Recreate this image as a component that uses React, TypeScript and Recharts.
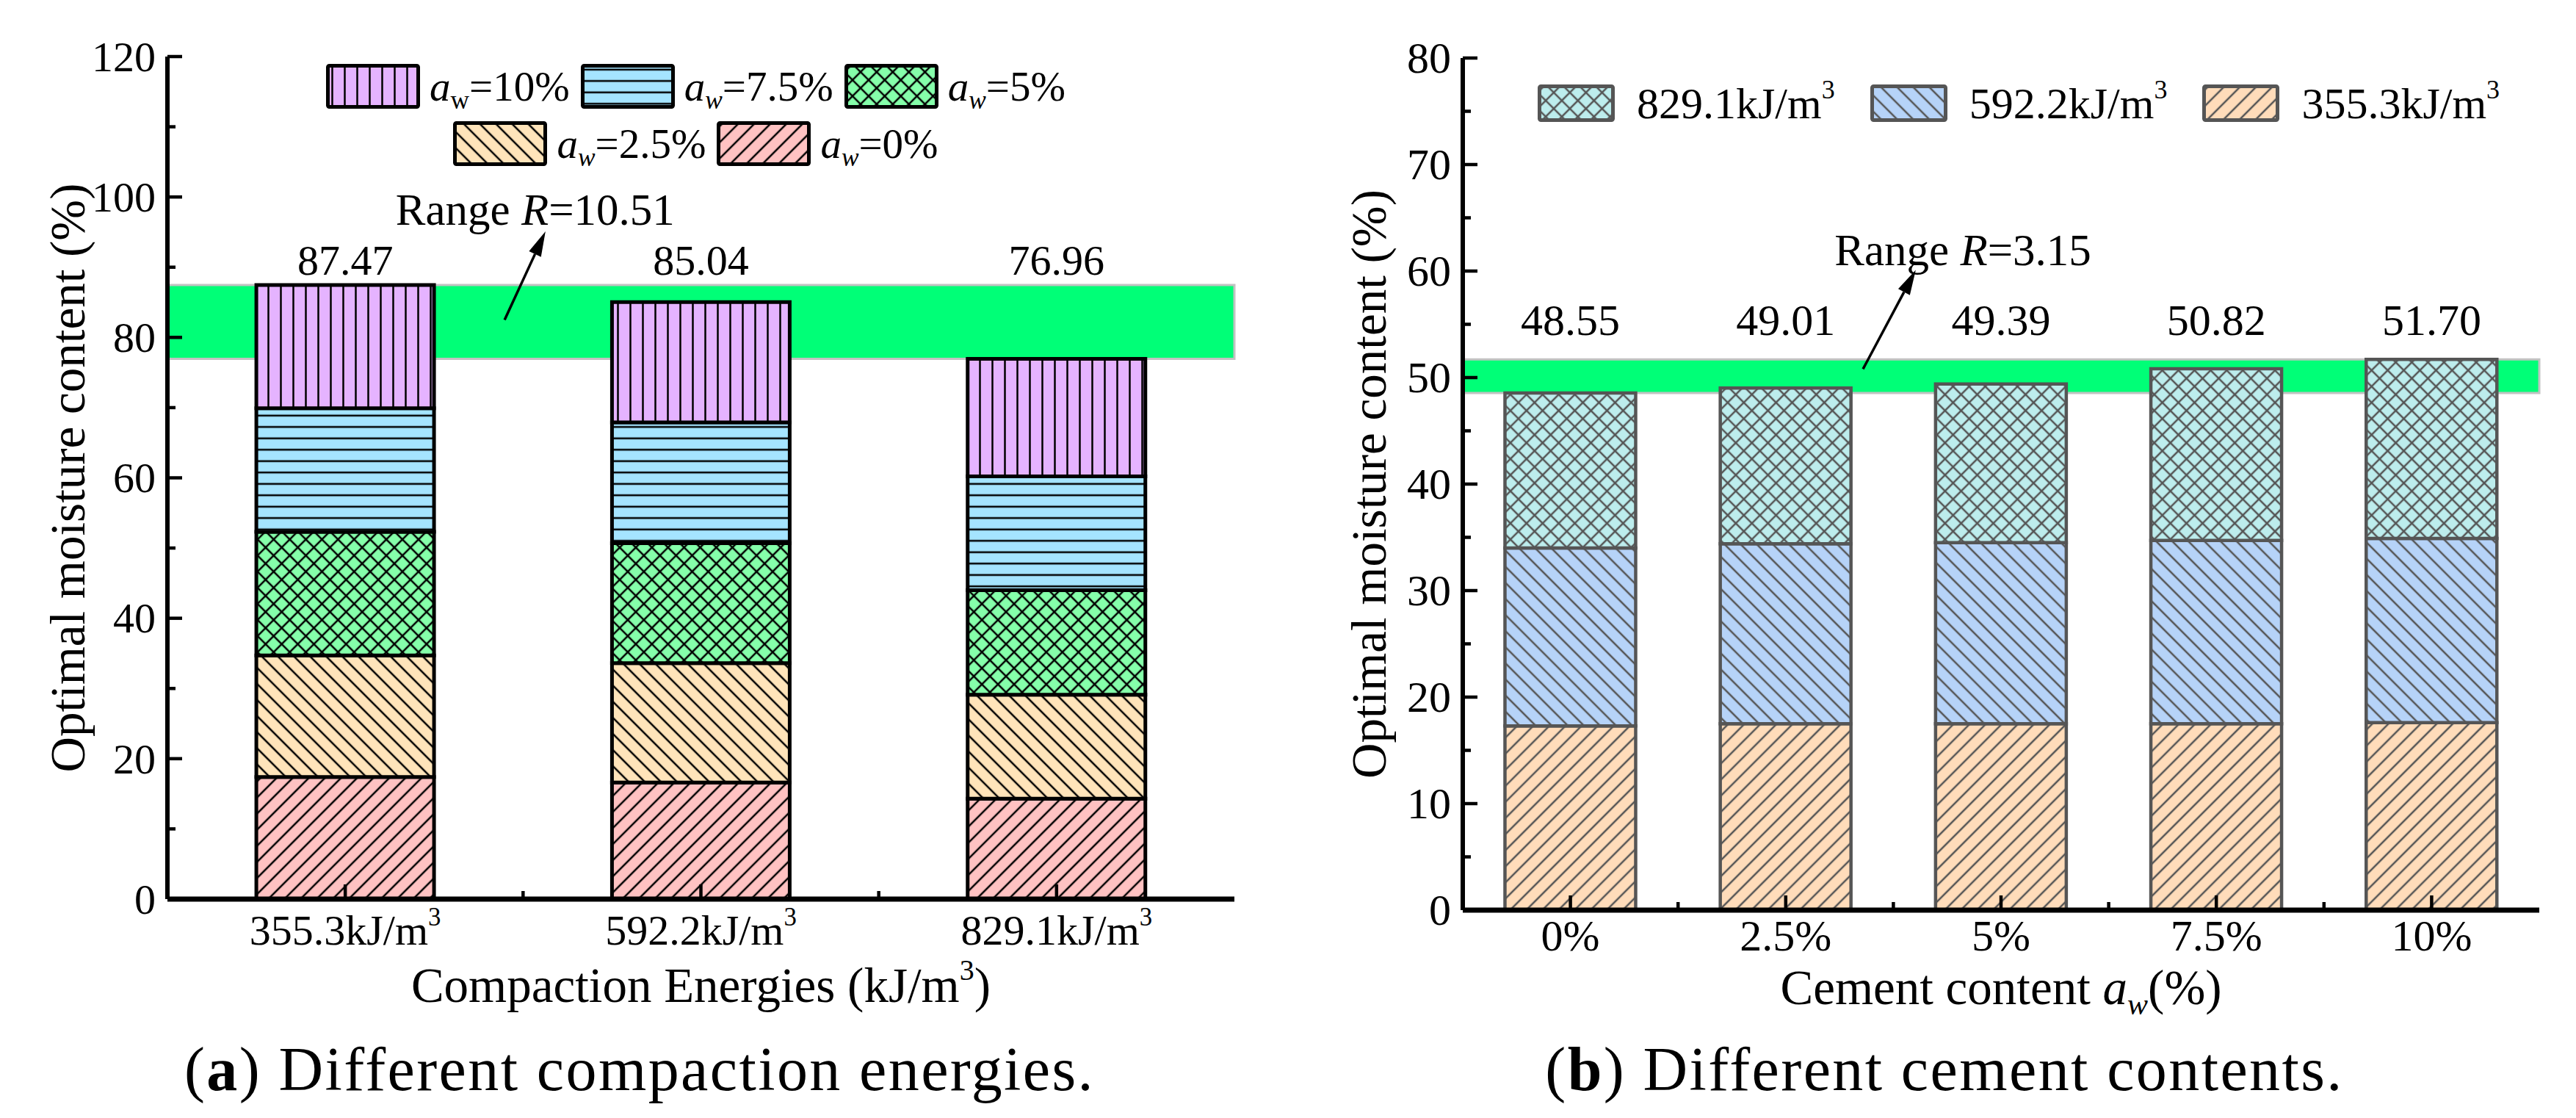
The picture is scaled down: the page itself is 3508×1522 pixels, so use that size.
import React from "react";
import { Bar, BarChart, Legend, ReferenceArea, ReferenceDot, ReferenceLine, XAxis, YAxis } from "recharts";

const FONT = "'Liberation Serif', 'Times New Roman', Times, serif";

// (a) optimal moisture content vs compaction energy, stacked by cement content a_w
const energyCats = ["355.3kJ/m³", "592.2kJ/m³", "829.1kJ/m³"];
const aw0 = [17.4, 16.6, 14.3];
const aw25 = [17.3, 17.0, 14.8];
const aw5 = [17.6, 17.1, 14.9];
const aw75 = [17.6, 17.2, 16.2];
const aw10 = [17.57, 17.14, 16.76];
const energyTotals = [87.47, 85.04, 76.96];
const energyYTicks = [0, 10, 20, 30, 40, 50, 60, 70, 80, 90, 100, 110, 120];

// (b) optimal moisture content vs cement content, stacked by compaction energy
const cementCats = ["0%", "2.5%", "5%", "7.5%", "10%"];
const e355 = [17.3, 17.5, 17.5, 17.5, 17.6];
const e592 = [16.7, 16.9, 17.0, 17.2, 17.3];
const e829 = [14.55, 14.61, 14.89, 16.12, 16.8];
const cementTotals = [48.55, 49.01, 49.39, 50.82, 51.7];
const cementYTicks = [0, 5, 10, 15, 20, 25, 30, 35, 40, 45, 50, 55, 60, 65, 70, 75, 80];

const energyRows = energyCats.map((cat, i) => ({
  cat, aw0: aw0[i], aw25: aw25[i], aw5: aw5[i], aw75: aw75[i], aw10: aw10[i],
}));
const cementRows = cementCats.map((cat, i) => ({ cat, e355: e355[i], e592: e592[i], e829: e829[i] }));

const awLevels = ["0%", "2.5%", "5%", "7.5%", "10%"];
const leftSeries = [
  { key: "aw0", pat: "pA0", kind: "fwd", bg: "#FFC2C2" },
  { key: "aw25", pat: "pA1", kind: "back", bg: "#FFE4BA" },
  { key: "aw5", pat: "pA2", kind: "cross", bg: "#85FFAA" },
  { key: "aw75", pat: "pA3", kind: "h", bg: "#A5E4FF" },
  { key: "aw10", pat: "pA4", kind: "v", bg: "#E5B3FF" },
];
const rightSeries = [
  { key: "e355", pat: "pB0", kind: "fwd", bg: "#FFDCBA" },
  { key: "e592", pat: "pB1", kind: "back", bg: "#B6D3F8" },
  { key: "e829", pat: "pB2", kind: "cross", bg: "#BDEDED" },
];

const BAND = "#00FF77";

function Hatch({ id, kind, bg, ink, s = 15.5, w = 2.5 }: any) {
  const rot = kind === "fwd" || kind === "cross" ? 45 : kind === "back" ? -45 : 0;
  const vert = kind !== "h";
  const horiz = kind === "h" || kind === "cross";
  return (
    <pattern
      id={id}
      patternUnits="userSpaceOnUse"
      width={s}
      height={s}
      patternTransform={rot ? `rotate(${rot})` : undefined}
    >
      <rect width={s} height={s} fill={bg} />
      {vert && <line x1={s / 2} y1={-1} x2={s / 2} y2={s + 1} stroke={ink} strokeWidth={w} />}
      {horiz && <line x1={-1} y1={s / 2} x2={s + 1} y2={s / 2} stroke={ink} strokeWidth={w} />}
    </pattern>
  );
}

// "kJ/m³" -> raised small 3 like the original figure
function SvgUnit({ text, fontSize }: any) {
  if (!text.endsWith("³")) return <>{text}</>;
  return (
    <>
      {text.slice(0, -1)}
      <tspan fontSize={fontSize * 0.6} dy={-0.45 * fontSize}>3</tspan>
    </>
  );
}

function HtmlUnit({ text }: any) {
  if (!text.endsWith("³")) return <>{text}</>;
  return (
    <>
      {text.slice(0, -1)}
      <span style={{ fontSize: "0.6em", position: "relative", top: "-0.75em" }}>3</span>
    </>
  );
}

function YTick({ x, y, payload, majorStep, fontSize }: any) {
  const v = payload.value;
  const major = v % majorStep === 0;
  return (
    <g>
      <line x1={x} x2={x + (major ? 20 : 11)} y1={y} y2={y} stroke="#000" strokeWidth={4.5} />
      {major && (
        <text x={x - 16} y={y} dy="0.34em" textAnchor="end" fontFamily={FONT} fontSize={fontSize} fill="#000">
          {v}
        </text>
      )}
    </g>
  );
}

function XTick({ x, y, payload, index, count, half, baseline, fontSize }: any) {
  return (
    <g>
      <line x1={x} x2={x} y1={y} y2={y - 20} stroke="#000" strokeWidth={4.5} />
      {index < count - 1 && <line x1={x + half} x2={x + half} y1={y} y2={y - 11} stroke="#000" strokeWidth={4.5} />}
      <text x={x} y={y + baseline} textAnchor="middle" fontFamily={FONT} fontSize={fontSize} fill="#000">
        <SvgUnit text={String(payload.value)} fontSize={fontSize} />
      </text>
    </g>
  );
}

// arrow drawn from a vertical reference segment anchored on the first category,
// shifted sideways by fractions of a category band
const arrowShape = (band: number, f1: number, f2: number) => (p: any) => {
  const x1 = p.x1 + (f1 - 0.5) * band;
  const x2 = p.x2 + (f2 - 0.5) * band;
  const y1 = p.y1;
  const y2 = p.y2;
  const a = Math.atan2(y2 - y1, x2 - x1);
  const L = 34;
  const W = 9;
  const bx = x2 - L * Math.cos(a);
  const by = y2 - L * Math.sin(a);
  const px = -Math.sin(a) * W;
  const py = Math.cos(a) * W;
  return (
    <g>
      <line x1={x1} y1={y1} x2={bx} y2={by} stroke="#000" strokeWidth={3.5} />
      <polygon points={`${x2},${y2} ${bx + px},${by + py} ${bx - px},${by - py}`} fill="#000" />
    </g>
  );
};

const rangeText = (band: number, f: number, range: number) => (p: any) => (
  <text x={p.cx + (f - 0.5) * band} y={p.cy} textAnchor="middle" fontFamily={FONT} fontSize={61} fill="#000">
    Range <tspan fontStyle="italic">R</tspan>={range.toFixed(2)}
  </text>
);

function Swatch({ pat, w, h, stroke, sw }: any) {
  return (
    <svg width={w} height={h} style={{ display: "block", flex: "none" }}>
      <rect x={sw / 2} y={sw / 2} width={w - sw} height={h - sw} fill={`url(#${pat})`} stroke={stroke} strokeWidth={sw} rx={2} />
    </svg>
  );
}

function AwText({ level, italicW }: any) {
  return (
    <span style={{ lineHeight: 1, whiteSpace: "nowrap" }}>
      <i>a</i>
      <span style={{ fontSize: "0.62em", fontStyle: italicW ? "italic" : "normal", position: "relative", top: "0.32em" }}>w</span>
      ={level}
    </span>
  );
}

function LeftLegend() {
  const rows = [[4, 3, 2], [1, 0]];
  return (
    <div style={{ fontFamily: FONT, fontSize: 57, color: "#000" }}>
      {rows.map((row, ri) => (
        <div
          key={ri}
          style={{ display: "flex", justifyContent: "center", alignItems: "center", gap: 15, height: 61, marginBottom: ri === 0 ? 17 : 0 }}
        >
          {row.map((i) => (
            <div key={i} style={{ display: "flex", alignItems: "center", gap: 13 }}>
              <Swatch pat={leftSeries[i].pat} w={128} h={61} stroke="#000" sw={5} />
              <AwText level={awLevels[i]} italicW={i !== 4} />
            </div>
          ))}
        </div>
      ))}
    </div>
  );
}

function RightLegend() {
  const order = [2, 1, 0];
  return (
    <div style={{ fontFamily: FONT, fontSize: 60, color: "#000", display: "flex", alignItems: "center", gap: 48, height: 51 }}>
      {order.map((i) => (
        <div key={i} style={{ display: "flex", alignItems: "center", gap: 30 }}>
          <Swatch pat={rightSeries[i].pat} w={105} h={51} stroke="#555" sw={5} />
          <span style={{ lineHeight: 1, whiteSpace: "nowrap" }}>
            <HtmlUnit text={energyCats[i]} />
          </span>
        </div>
      ))}
    </div>
  );
}

const yTitle = (dx: number) => (props: any) => {
  const vb = props.viewBox;
  const cx = vb.x + dx;
  const cy = vb.y + vb.height / 2;
  return (
    <text
      x={cx}
      y={cy}
      transform={`rotate(-90 ${cx} ${cy})`}
      textAnchor="middle"
      dominantBaseline="central"
      fontFamily={FONT}
      fontSize={67}
      fill="#000"
    >
      Optimal moisture content (%)
    </text>
  );
};

const frameAxes = (max: number) => [
  <XAxis
    key="top"
    xAxisId="top"
    orientation="top"
    dataKey="cat"
    height={0}
    tick={false}
    tickLine={false}
    axisLine={{ stroke: "#000", strokeWidth: 5 }}
  />,
  <YAxis
    key="right"
    yAxisId="right"
    orientation="right"
    width={0}
    domain={[0, max]}
    tick={false}
    tickLine={false}
    axisLine={{ stroke: "#000", strokeWidth: 5 }}
  />,
];

function EnergyChart() {
  const W = 1750;
  const H = 1400;
  const margin = { top: 77, right: 69, bottom: 0, left: 0 };
  const yW = 228;
  const plotW = W - yW - margin.right;
  const lo = Math.min(...energyTotals);
  const hi = Math.max(...energyTotals);
  const n = energyCats.length;
  const band = plotW / n;
  return (
    <BarChart width={W} height={H} data={energyRows} margin={margin} barCategoryGap="25%">
      <defs>
        {leftSeries.map((s) => (
          <Hatch key={s.pat} id={s.pat} kind={s.kind} bg={s.bg} ink="#000" s={s.kind === "v" ? 17 : 15.5} />
        ))}
      </defs>
      <XAxis
        dataKey="cat"
        height={176}
        interval={0}
        tickSize={0}
        tickMargin={0}
        tickLine={false}
        axisLine={{ stroke: "#000", strokeWidth: 7 }}
        tick={(p: any) => <XTick {...p} count={n} half={band / 2} baseline={62} fontSize={58} />}
        label={{
          content: (p: any) => (
            <text x={p.viewBox.x + p.viewBox.width / 2} y={p.viewBox.y + 140} textAnchor="middle" fontFamily={FONT} fontSize={67} fill="#000">
              Compaction Energies (kJ/m<tspan fontSize={40} dy={-30}>3</tspan>
              <tspan dy={30}>)</tspan>
            </text>
          ),
        }}
      />
      <YAxis
        width={yW}
        domain={[0, 120]}
        ticks={energyYTicks}
        interval={0}
        tickSize={0}
        tickMargin={0}
        tickLine={false}
        axisLine={{ stroke: "#000", strokeWidth: 6 }}
        tick={(p: any) => <YTick {...p} majorStep={20} fontSize={58} />}
        label={{ content: yTitle(92) }}
      />
      {frameAxes(120)}
      <ReferenceArea y1={lo} y2={hi} fill={BAND} fillOpacity={1} stroke="#C2C2C2" strokeWidth={3} />
      {leftSeries.map((s) => (
        <Bar key={s.key} dataKey={s.key} stackId="a" fill={`url(#${s.pat})`} stroke="#000" strokeWidth={5} isAnimationActive={false} />
      ))}
      {energyCats.map((c, i) => (
        <ReferenceDot
          key={c}
          x={c}
          y={88.9}
          r={0}
          shape={(p: any) => (
            <text x={p.cx} y={p.cy} textAnchor="middle" fontFamily={FONT} fontSize={58} fill="#000">
              {energyTotals[i].toFixed(2)}
            </text>
          )}
        />
      ))}
      <ReferenceLine
        segment={[{ x: energyCats[0], y: 82.5 }, { x: energyCats[0], y: 95.1 }]}
        shape={arrowShape(band, 0.948, 1.063)}
      />
      <ReferenceDot x={energyCats[0]} y={96.0} r={0} shape={rangeText(band, 1.034, hi - lo)} />
      <Legend
        layout="horizontal"
        verticalAlign="middle"
        align="center"
        content={() => <LeftLegend />}
        wrapperStyle={{ top: 87, left: 221, width: plotW, height: "auto" }}
      />
    </BarChart>
  );
}

function CementChart() {
  const W = 1758;
  const H = 1400;
  const margin = { top: 79, right: 50, bottom: 0, left: 0 };
  const yW = 242;
  const plotW = W - yW - margin.right;
  const lo = Math.min(...cementTotals);
  const hi = Math.max(...cementTotals);
  const n = cementCats.length;
  const band = plotW / n;
  return (
    <BarChart width={W} height={H} data={cementRows} margin={margin} barCategoryGap="19.6%">
      <defs>
        {rightSeries.map((s) => (
          <Hatch key={s.pat} id={s.pat} kind={s.kind} bg={s.bg} ink="#555" />
        ))}
      </defs>
      <XAxis
        dataKey="cat"
        height={161}
        interval={0}
        tickSize={0}
        tickMargin={0}
        tickLine={false}
        axisLine={{ stroke: "#000", strokeWidth: 7 }}
        tick={(p: any) => <XTick {...p} count={n} half={band / 2} baseline={55} fontSize={60} />}
        label={{
          content: (p: any) => (
            <text x={p.viewBox.x + p.viewBox.width / 2} y={p.viewBox.y + 128} textAnchor="middle" fontFamily={FONT} fontSize={67} fill="#000">
              Cement content <tspan fontStyle="italic">a</tspan>
              <tspan fontStyle="italic" fontSize={42} dy={14}>w</tspan>
              <tspan dy={-14}>(%)</tspan>
            </text>
          ),
        }}
      />
      <YAxis
        width={yW}
        domain={[0, 80]}
        ticks={cementYTicks}
        interval={0}
        tickSize={0}
        tickMargin={0}
        tickLine={false}
        axisLine={{ stroke: "#000", strokeWidth: 6 }}
        tick={(p: any) => <YTick {...p} majorStep={10} fontSize={60} />}
        label={{ content: yTitle(114) }}
      />
      {frameAxes(80)}
      <ReferenceArea y1={lo} y2={hi} fill={BAND} fillOpacity={1} stroke="#C2C2C2" strokeWidth={3} />
      {rightSeries.map((s) => (
        <Bar key={s.key} dataKey={s.key} stackId="b" fill={`url(#${s.pat})`} stroke="#555" strokeWidth={4.5} isAnimationActive={false} />
      ))}
      {cementCats.map((c, i) => (
        <ReferenceDot
          key={c}
          x={c}
          y={54.0}
          r={0}
          shape={(p: any) => (
            <text x={p.cx} y={p.cy} textAnchor="middle" fontFamily={FONT} fontSize={60} fill="#000">
              {cementTotals[i].toFixed(2)}
            </text>
          )}
        />
      ))}
      <ReferenceLine
        segment={[{ x: cementCats[0], y: 50.8 }, { x: cementCats[0], y: 60.1 }]}
        shape={arrowShape(band, 1.859, 2.104)}
      />
      <ReferenceDot x={cementCats[0]} y={60.55} r={0} shape={rangeText(band, 2.323, hi - lo)} />
      <Legend
        layout="horizontal"
        verticalAlign="middle"
        align="center"
        content={() => <RightLegend />}
        wrapperStyle={{ top: 115, left: 344, width: 1300, height: "auto" }}
      />
    </BarChart>
  );
}

export default function App() {
  return (
    <div style={{ position: "relative", width: 3508, height: 1522, background: "#fff", overflow: "hidden" }}>
      <style>{"body{margin:0;background:#fff}"}</style>
      <div style={{ position: "absolute", left: 0, top: 0 }}>
        <EnergyChart />
      </div>
      <div style={{ position: "absolute", left: 1750, top: 0 }}>
        <CementChart />
      </div>
      <svg width={3508} height={1522} style={{ position: "absolute", left: 0, top: 0, pointerEvents: "none" }}>
        <text x={871} y={1484} textAnchor="middle" fontFamily={FONT} fontSize={84} letterSpacing={2.4} fill="#000">
          (<tspan fontWeight="bold">a</tspan>) Different compaction energies.
        </text>
        <text x={2648} y={1484} textAnchor="middle" fontFamily={FONT} fontSize={84} letterSpacing={2.4} fill="#000">
          (<tspan fontWeight="bold">b</tspan>) Different cement contents.
        </text>
      </svg>
    </div>
  );
}
